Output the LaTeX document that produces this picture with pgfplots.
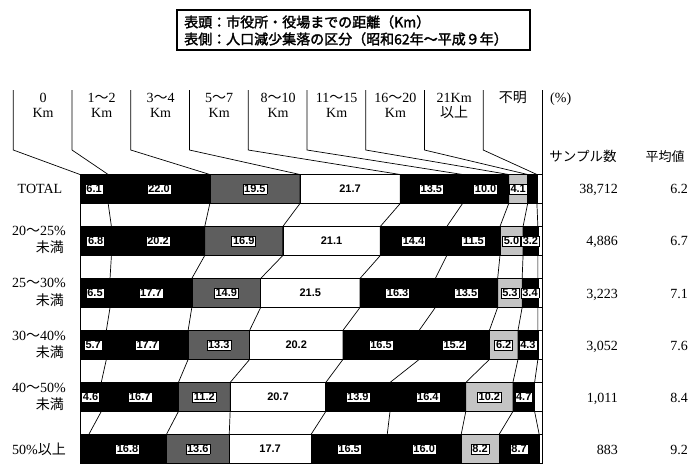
\documentclass[border=0pt]{standalone}
\usepackage{fontspec}
\setmainfont{Liberation Serif}
\newfontfamily\cjk{Noto Sans CJK JP}
\newfontfamily\cjkb{Noto Sans CJK JP}[FakeBold=2]
\newfontfamily\labfont{Liberation Sans}
\usepackage{pgfplots}
\usepackage{pgfplotstable}
\pgfplotsset{compat=1.18}

% rows: 0 TOTAL, 1 20-25%, 2 25-30%, 3 30-40%, 4 40-50%, 5 50%+
% k0 0Km, k1 1-2, k2 3-4, k3 5-7, k4 8-10, k5 11-15, k6 16-20, k7 21Km+, k8 unknown
\pgfplotstableread{
y  k0   k1    k2    k3    k4    k5    k6    k7   k8
0  6.1  22.0  19.5  21.7  13.5  10.0  4.1   2.0  1.1
1  6.8  20.2  16.9  21.1  14.4  11.5  5.0   3.2  0.9
2  6.5  17.7  14.9  21.5  16.3  13.5  5.3   3.4  0.9
3  5.7  17.7  13.3  20.2  16.5  15.2  6.2   4.3  0.9
4  4.6  16.7  11.2  20.7  13.9  16.4  10.2  4.7  1.6
5  1.9  16.8  13.6  17.7  16.5  16.0  8.2   8.7  0.6
}\data

% label positions (segment centres) for the printed values
\pgfplotstableread{
x      y  l
3.05   0  6.1
17.1   0  22.0
37.85  0  19.5
76.05  0  13.5
87.8   0  10.0
94.85  0  4.1
3.4    1  6.8
16.9   1  20.2
35.45  1  16.9
72.2   1  14.4
85.15  1  11.5
93.4   1  5.0
97.5   1  3.2
3.25   2  6.5
15.35  2  17.7
31.65  2  14.9
68.75  2  16.3
83.65  2  13.5
93.05  2  5.3
97.4   2  3.4
2.85   3  5.7
14.55  3  17.7
30.05  3  13.3
65.15  3  16.5
81.0   3  15.2
91.7   3  6.2
96.95  3  4.3
2.3    4  4.6
12.95  4  16.7
26.9   4  11.2
60.15  4  13.9
75.3   4  16.4
88.6   4  10.2
96.05  4  4.7
10.3   5  16.8
25.5   5  13.6
58.25  5  16.5
74.5   5  16.0
86.6   5  8.2
95.05  5  8.7
}\boxlabels
\pgfplotstableread{
x      y  l
58.45  0  21.7
54.45  1  21.1
49.85  2  21.5
46.8   3  20.2
42.85  4  20.7
41.15  5  17.7
}\whitelabels

\definecolor{dkgray}{HTML}{5E5E5E}
\definecolor{ltgray}{HTML}{C4C4C4}
\setlength{\fboxsep}{1pt}
\setlength{\fboxrule}{0.6pt}

\pgfplotsset{
  geom/.style={
    at={(80pt,10.5pt)}, anchor=south west,
    scale only axis, width=462pt, height=289pt,
    xmin=0, xmax=100, ymin=-0.279, ymax=5.279, y dir=reverse,
    xtick=\empty, ytick=\empty, clip=false,
  },
  ln/.style={black, line width=0.7pt, mark=none},
  labs/.style={only marks, mark=*, mark size=0pt, mark options={draw=none,fill=none},
    point meta=explicit symbolic,
    nodes near coords={#1},
    every node near coord/.append style={anchor=center, inner sep=0pt,
      font=\labfont\bfseries\fontsize{11}{11}\selectfont, text=black}},
}

\begin{document}
\begin{tikzpicture}[x=1pt,y=1pt]
\path[use as bounding box] (0,0) rectangle (700,474);

% title box
\draw[line width=1.2pt] (177,464) rectangle (530,424);
\node[anchor=west,inner sep=0pt] at (184,452) {\cjkb\fontsize{14}{14}\selectfont 表頭：市役所・役場までの距離（Km）};
\node[anchor=west,inner sep=0pt] at (184,435) {\cjkb\fontsize{14}{14}\selectfont 表側：人口減少集落の区分（昭和62年～平成９年）};

\begin{axis}[geom, xbar stacked, bar width=29pt,
  axis line style={black, line width=0.8pt}]
\addplot[fill=black, draw=black, line width=0.6pt] table[x=k0,y=y]{\data};
\addplot[fill=black, draw=black, line width=0.6pt] table[x=k1,y=y]{\data};
\addplot[fill=dkgray, draw=black, line width=0.6pt] table[x=k2,y=y]{\data};
\addplot[fill=white, draw=black, line width=0.6pt] table[x=k3,y=y]{\data};
\addplot[fill=black, draw=black, line width=0.6pt] table[x=k4,y=y]{\data};
\addplot[fill=black, draw=black, line width=0.6pt] table[x=k5,y=y]{\data};
\addplot[fill=ltgray, draw=black, line width=0.6pt] table[x=k6,y=y]{\data};
\addplot[fill=black, draw=black, line width=0.6pt] table[x=k7,y=y]{\data};
\addplot[fill=white, draw=black, line width=0.6pt] table[x=k8,y=y]{\data};
\end{axis}

\begin{axis}[geom, axis lines=none]
\addplot[ln] coordinates {(-14.44,-1.904) (-14.44,-0.75) (0,-0.279)};
\addplot[ln] coordinates {(-1.726,-1.904) (-1.726,-0.75) (6.1,-0.279) (6.1,0.279) (6.8,0.721) (6.8,1.279) (6.5,1.721) (6.5,2.279) (5.7,2.721) (5.7,3.279) (4.6,3.721) (4.6,4.279) (1.9,4.721)};
\addplot[ln] coordinates {(10.988,-1.904) (10.988,-0.75) (28.1,-0.279) (28.1,0.279) (27.0,0.721) (27.0,1.279) (24.2,1.721) (24.2,2.279) (23.4,2.721) (23.4,3.279) (21.3,3.721) (21.3,4.279) (18.7,4.721)};
\addplot[ln] coordinates {(23.702,-1.904) (23.702,-0.75) (47.6,-0.279) (47.6,0.279) (43.9,0.721) (43.9,1.279) (39.1,1.721) (39.1,2.279) (36.7,2.721) (36.7,3.279) (32.5,3.721) (32.5,4.279) (32.3,4.721)};
\addplot[ln] coordinates {(36.416,-1.904) (36.416,-0.75) (69.3,-0.279) (69.3,0.279) (65.0,0.721) (65.0,1.279) (60.6,1.721) (60.6,2.279) (56.9,2.721) (56.9,3.279) (53.2,3.721) (53.2,4.279) (50.0,4.721)};
\addplot[ln] coordinates {(49.13,-1.904) (49.13,-0.75) (82.8,-0.279) (82.8,0.279) (79.4,0.721) (79.4,1.279) (76.9,1.721) (76.9,2.279) (73.4,2.721) (73.4,3.279) (67.1,3.721) (67.1,4.279) (66.5,4.721)};
\addplot[ln] coordinates {(61.844,-1.904) (61.844,-0.75) (92.8,-0.279) (92.8,0.279) (90.9,0.721) (90.9,1.279) (90.4,1.721) (90.4,2.279) (88.6,2.721) (88.6,3.279) (83.5,3.721) (83.5,4.279) (82.5,4.721)};
\addplot[ln] coordinates {(74.558,-1.904) (74.558,-0.75) (96.9,-0.279) (96.9,0.279) (95.9,0.721) (95.9,1.279) (95.7,1.721) (95.7,2.279) (94.8,2.721) (94.8,3.279) (93.7,3.721) (93.7,4.279) (90.7,4.721)};
\addplot[ln] coordinates {(87.272,-1.904) (87.272,-0.75) (98.9,-0.279) (98.9,0.279) (99.1,0.721) (99.1,1.279) (99.1,1.721) (99.1,2.279) (99.1,2.721) (99.1,3.279) (98.4,3.721) (98.4,4.279) (99.4,4.721)};
\addplot[ln] coordinates {(100,-1.904) (100,5.279)};
\addplot[labs={\fcolorbox{black}{white}{\pgfplotspointmeta}}] table[x=x,y=y,meta=l]{\boxlabels};
\addplot[labs={\pgfplotspointmeta}] table[x=x,y=y,meta=l]{\whitelabels};
\end{axis}

% column headers
\begin{scope}[every node/.style={inner sep=0pt, anchor=base, font=\fontsize{14}{14}\selectfont}]
\node at (43.0,371) {0};             \node at (43.0,356) {Km};
\node at (101.7,371) {1{\cjk ～}2};  \node at (101.7,356) {Km};
\node at (160.5,371) {3{\cjk ～}4};  \node at (160.5,356) {Km};
\node at (219.2,371) {5{\cjk ～}7};  \node at (219.2,356) {Km};
\node at (278.0,371) {8{\cjk ～}10}; \node at (278.0,356) {Km};
\node at (336.7,371) {11{\cjk ～}15};\node at (336.7,356) {Km};
\node at (395.4,371) {16{\cjk ～}20};\node at (395.4,356) {Km};
\node at (454.2,371) {21Km};         \node at (454.2,356) {\cjk 以上};
\node at (512.9,371) {\cjk 不明};
\node[anchor=base west] at (550,371) {(\%)};
\node at (583,312) {\cjk\fontsize{13.5}{14}\selectfont サンプル数};
\node at (665,312) {\cjk\fontsize{13}{14}\selectfont 平均値};
\end{scope}

% row labels and side figures
\begin{scope}[every node/.style={inner sep=0pt, font=\fontsize{14}{14}\selectfont}]
\node[anchor=base] at (40,280) {TOTAL};
\node[anchor=base east] at (66,238) {20{\cjk ～}25\%};
\node[anchor=base east] at (64,221) {\cjk 未満};
\node[anchor=base east] at (66,186) {25{\cjk ～}30\%};
\node[anchor=base east] at (64,169) {\cjk 未満};
\node[anchor=base east] at (66,134) {30{\cjk ～}40\%};
\node[anchor=base east] at (64,117) {\cjk 未満};
\node[anchor=base east] at (66,82) {40{\cjk ～}50\%};
\node[anchor=base east] at (64,65) {\cjk 未満};
\node[anchor=base east] at (66,20) {50\%{\cjk 以上}};

\node[anchor=base east] at (618,280) {38,712}; \node[anchor=base east] at (688,280) {6.2};
\node[anchor=base east] at (618,228) {4,886};  \node[anchor=base east] at (688,228) {6.7};
\node[anchor=base east] at (618,176) {3,223};  \node[anchor=base east] at (688,176) {7.1};
\node[anchor=base east] at (618,124) {3,052};  \node[anchor=base east] at (688,124) {7.6};
\node[anchor=base east] at (618,72) {1,011};   \node[anchor=base east] at (688,72) {8.4};
\node[anchor=base east] at (618,20) {883};     \node[anchor=base east] at (688,20) {9.2};
\end{scope}
\end{tikzpicture}
\end{document}
